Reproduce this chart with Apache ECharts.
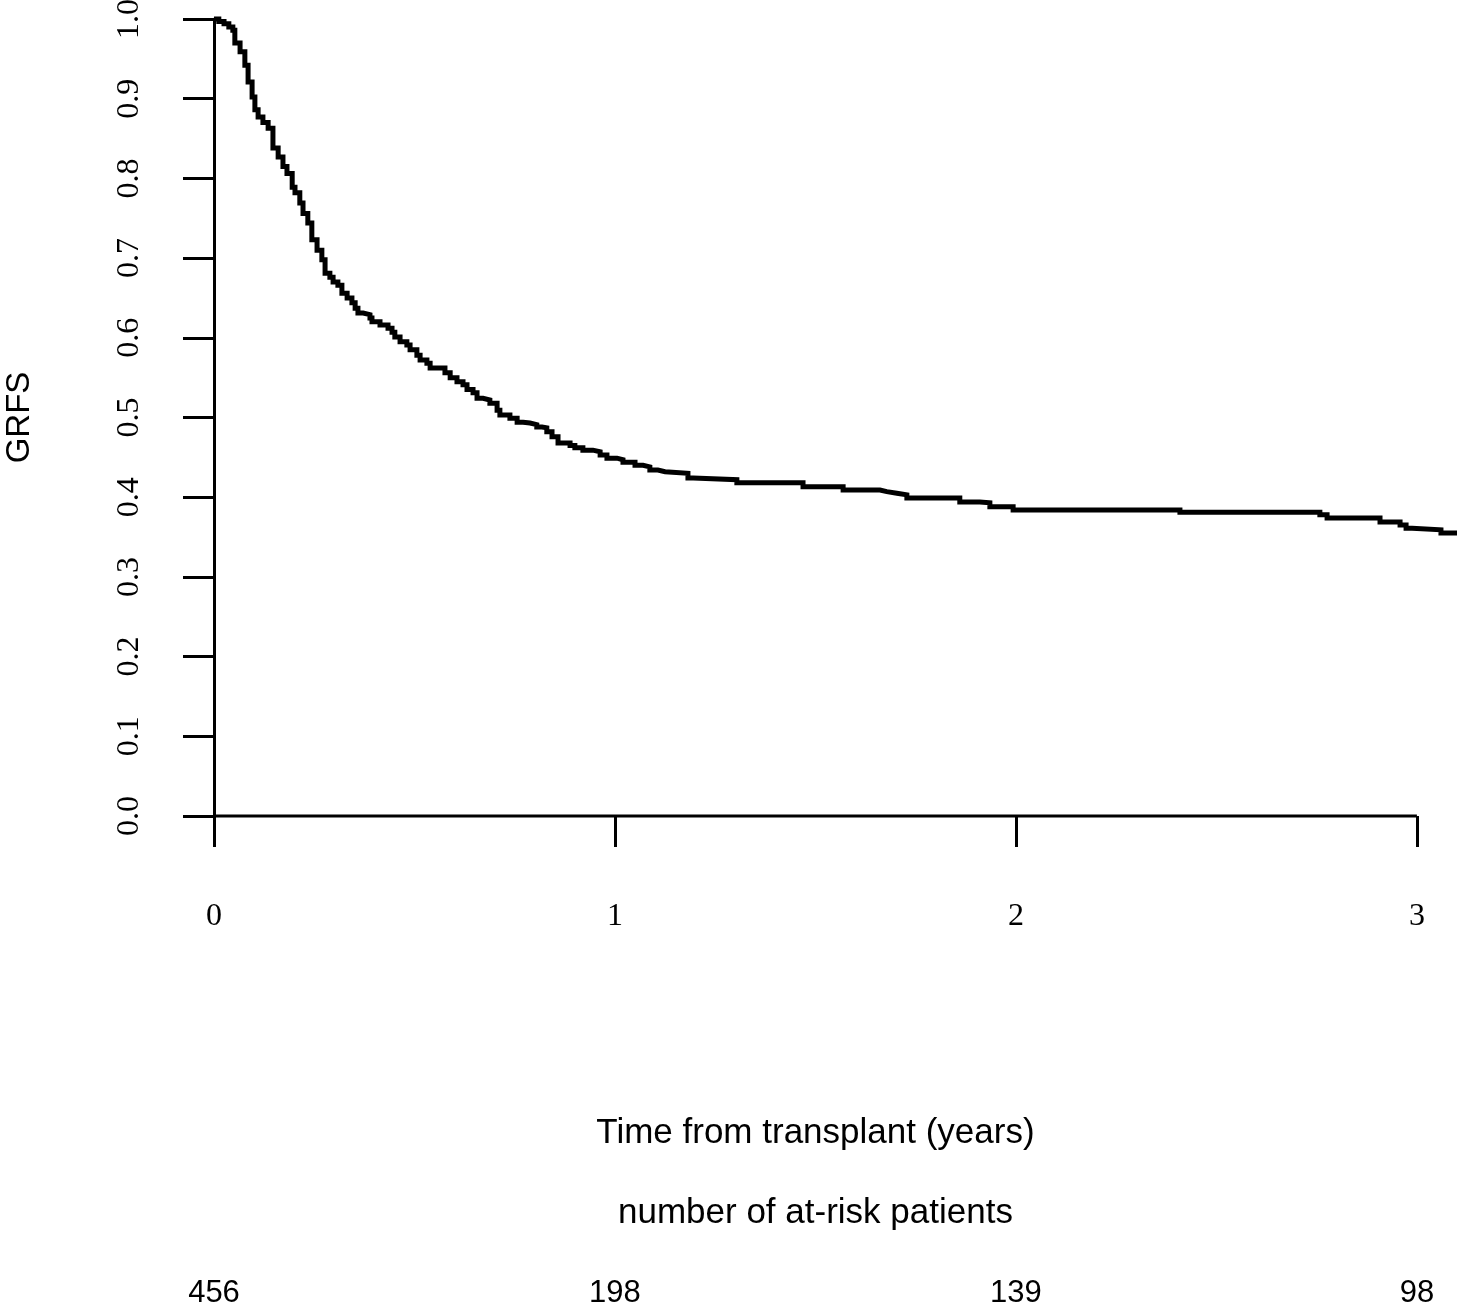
<!DOCTYPE html>
<html>
<head>
<meta charset="utf-8">
<script src="https://cdn.jsdelivr.net/npm/echarts@6/dist/echarts.min.js"></script>
<style>
html,body{margin:0;padding:0;background:#fff;}
#chart{width:1457px;height:1306px;}
</style>
</head>
<body>
<div id="chart"></div>
<script>
// Kaplan-Meier step points (time in years, GRFS after the step)
const times = [0, 0.012, 0.025, 0.037, 0.047, 0.052, 0.065, 0.077, 0.085, 0.095, 0.102, 0.110, 0.122, 0.135, 0.147,
  0.160, 0.172, 0.182, 0.195, 0.202, 0.214, 0.222, 0.234, 0.244, 0.257, 0.269, 0.277, 0.289, 0.297, 0.309,
  0.319, 0.332, 0.344, 0.352, 0.359, 0.372, 0.389, 0.394, 0.414, 0.434, 0.444, 0.451, 0.464, 0.481, 0.489,
  0.506, 0.514, 0.531, 0.539, 0.576, 0.589, 0.606, 0.621, 0.631, 0.646, 0.656, 0.671, 0.688, 0.706, 0.713,
  0.738, 0.756, 0.771, 0.788, 0.805, 0.818, 0.830, 0.843, 0.858, 0.888, 0.900, 0.920, 0.945, 0.963, 0.980,
  1.005, 1.020, 1.050, 1.070, 1.087, 1.107, 1.125, 1.182, 1.195, 1.304, 1.469, 1.569, 1.661, 1.678, 1.703,
  1.728, 1.860, 1.910, 1.935, 1.993, 2.409, 2.758, 2.776, 2.908, 2.958, 2.973, 2.988, 3.060, 3.100];
const surv = [1.000, 0.997, 0.994, 0.990, 0.986, 0.970, 0.959, 0.942, 0.921, 0.902, 0.886, 0.877, 0.870, 0.863, 0.838,
  0.827, 0.815, 0.806, 0.789, 0.782, 0.769, 0.756, 0.744, 0.723, 0.710, 0.698, 0.681, 0.676, 0.670, 0.666,
  0.656, 0.650, 0.644, 0.637, 0.631, 0.629, 0.625, 0.620, 0.616, 0.612, 0.607, 0.601, 0.595, 0.591, 0.585,
  0.578, 0.572, 0.568, 0.562, 0.556, 0.550, 0.545, 0.541, 0.535, 0.531, 0.524, 0.522, 0.518, 0.509, 0.503,
  0.499, 0.494, 0.493, 0.491, 0.488, 0.487, 0.482, 0.476, 0.468, 0.465, 0.462, 0.459, 0.457, 0.453, 0.449,
  0.447, 0.444, 0.440, 0.438, 0.434, 0.432, 0.430, 0.424, 0.422, 0.418, 0.413, 0.409, 0.407, 0.405, 0.403,
  0.399, 0.394, 0.393, 0.388, 0.384, 0.381, 0.378, 0.374, 0.369, 0.365, 0.361, 0.359, 0.355, 0.355];
const xTicks = [0, 1, 2, 3];
const atRisk = [456, 198, 139, 98];
const yTickStep = 0.1;
const xAxisTitle = 'Time from transplant (years)';
const riskTitle = 'number of at-risk patients';
const yAxisTitle = 'GRFS';

const kmData = times.map((t, i) => [t, surv[i]]);
const xAxisBase = [[xTicks[0], 0], [xTicks[xTicks.length - 1], 0]];

const SERIF = '"Liberation Serif", "Times New Roman", serif';
const SANS = '"Liberation Sans", Arial, sans-serif';

const chart = echarts.init(document.getElementById('chart'), null, {renderer: 'canvas'});
const option = {
  backgroundColor: '#ffffff',
  animation: false,
  grid: {left: 214, right: 0, top: 19, bottom: 490, containLabel: false, outerBoundsMode: 'none'},
  xAxis: [{
    type: 'value', min: 0, max: 3.1, interval: 1,
    axisLine: {show: false},
    splitLine: {show: false},
    axisTick: {show: true, customValues: xTicks, length: 31, lineStyle: {color: '#000', width: 3}},
    axisLabel: {customValues: xTicks, margin: 85, color: '#000', fontFamily: SERIF, fontSize: 32,
      formatter: v => String(v)}
  }, {
    type: 'value', min: 0, max: 3.1, interval: 1, position: 'bottom', offset: 0,
    axisLine: {show: false}, axisTick: {show: false}, splitLine: {show: false},
    axisLabel: {customValues: xTicks, margin: 462, color: '#000', fontFamily: SANS, fontSize: 31,
      formatter: v => String(atRisk[xTicks.indexOf(Math.round(v))])}
  }],
  yAxis: {
    type: 'value', min: 0, max: 1, interval: yTickStep,
    name: yAxisTitle, nameLocation: 'middle', nameRotate: 90, nameGap: 178,
    nameTextStyle: {color: '#000', fontFamily: SANS, fontSize: 33},
    axisLine: {show: true, lineStyle: {color: '#000', width: 3}},
    splitLine: {show: false},
    axisTick: {show: true, length: 31, lineStyle: {color: '#000', width: 3}},
    axisLabel: {rotate: 90, margin: 68, color: '#000', fontFamily: SERIF, fontSize: 32,
      formatter: v => v.toFixed(1)}
  },
  series: [{
    type: 'line', data: xAxisBase, xAxisIndex: 0, symbol: 'none', silent: true, clip: false,
    lineStyle: {color: '#000', width: 3}, z: 1
  }, {
    type: 'line', data: kmData, xAxisIndex: 0, step: 'end', symbol: 'none', clip: false,
    lineStyle: {color: '#000', width: 5, join: 'miter'}, z: 3
  }]
};
chart.setOption(option);
const midX = chart.convertToPixel({xAxisIndex: 0}, (xTicks[0] + xTicks[xTicks.length - 1]) / 2);
chart.setOption({
  graphic: [{
    type: 'text', x: midX, y: 1133,
    style: {text: xAxisTitle, fill: '#000', font: '35px ' + SANS, textAlign: 'center', textVerticalAlign: 'middle'}
  }, {
    type: 'text', x: midX, y: 1213,
    style: {text: riskTitle, fill: '#000', font: '35px ' + SANS, textAlign: 'center', textVerticalAlign: 'middle'}
  }]
});
</script>
</body>
</html>
